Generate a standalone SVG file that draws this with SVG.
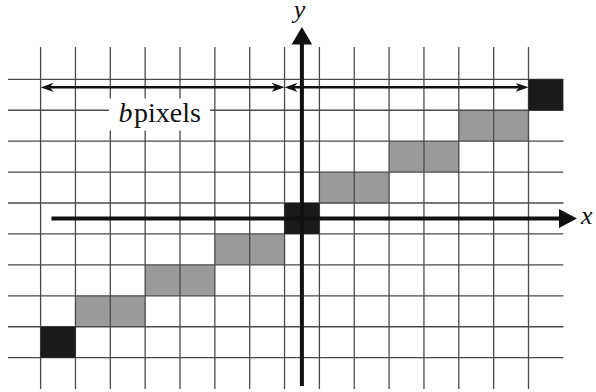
<svg xmlns="http://www.w3.org/2000/svg" width="596" height="392" viewBox="0 0 596 392">
<style>
.grid line{stroke:#4a4a4a;stroke-width:1.3}
.gray{fill:#9a9a9a}
.black{fill:#1a1a1a}
.axis{stroke:#111;stroke-width:4;fill:none}
.head{fill:#111}
.dim{stroke:#111;stroke-width:2.5;fill:none}
.lbl{font-family:"Liberation Serif","Times New Roman",serif;font-size:28px;fill:#111}
.ax{font-size:26px}
.it{font-style:italic}
</style>
<defs>
<marker id="dimhead" viewBox="0 0 13 10" refX="9" refY="5" markerWidth="13" markerHeight="10" markerUnits="userSpaceOnUse" orient="auto-start-reverse">
<path d="M0,0.4 L13,5 L0,9.6 L3.8,5 Z" fill="#111"/>
</marker>
</defs>
<rect width="596" height="392" fill="#fff"/>
<g id="gray-cells">
<rect class="gray" x="458.8" y="110.23" width="69.7" height="30.93"/>
<rect class="gray" x="389.1" y="141.16" width="69.7" height="30.93"/>
<rect class="gray" x="319.4" y="172.09" width="69.7" height="30.93"/>
<rect class="gray" x="214.85" y="233.95" width="69.7" height="30.93"/>
<rect class="gray" x="145.15" y="264.88" width="69.7" height="30.93"/>
<rect class="gray" x="75.45" y="295.81" width="69.7" height="30.93"/>
</g>
<g id="grid" class="grid">
<line x1="40.6" y1="47" x2="40.6" y2="389"/>
<line x1="75.45" y1="47" x2="75.45" y2="389"/>
<line x1="110.3" y1="47" x2="110.3" y2="389"/>
<line x1="145.15" y1="47" x2="145.15" y2="389"/>
<line x1="180" y1="47" x2="180" y2="389"/>
<line x1="214.85" y1="47" x2="214.85" y2="389"/>
<line x1="249.7" y1="47" x2="249.7" y2="389"/>
<line x1="284.55" y1="47" x2="284.55" y2="389"/>
<line x1="319.4" y1="47" x2="319.4" y2="389"/>
<line x1="354.25" y1="47" x2="354.25" y2="389"/>
<line x1="389.1" y1="47" x2="389.1" y2="389"/>
<line x1="423.95" y1="47" x2="423.95" y2="389"/>
<line x1="458.8" y1="47" x2="458.8" y2="389"/>
<line x1="493.65" y1="47" x2="493.65" y2="389"/>
<line x1="528.5" y1="47" x2="528.5" y2="389"/>
<line x1="8" y1="79.3" x2="563.4" y2="79.3"/>
<line x1="8" y1="110.23" x2="563.4" y2="110.23"/>
<line x1="8" y1="141.16" x2="563.4" y2="141.16"/>
<line x1="8" y1="172.09" x2="563.4" y2="172.09"/>
<line x1="8" y1="203.02" x2="563.4" y2="203.02"/>
<line x1="8" y1="233.95" x2="563.4" y2="233.95"/>
<line x1="8" y1="264.88" x2="563.4" y2="264.88"/>
<line x1="8" y1="295.81" x2="563.4" y2="295.81"/>
<line x1="8" y1="326.74" x2="563.4" y2="326.74"/>
<line x1="8" y1="357.67" x2="563.4" y2="357.67"/>
</g>
<g id="black-cells">
<rect class="black" x="528.5" y="79.3" width="34.85" height="30.93"/>
<rect class="black" x="284.55" y="203.02" width="34.85" height="30.93"/>
<rect class="black" x="40.6" y="326.74" width="34.85" height="30.93"/>
</g>
<g id="connectors">
<line class="axis" x1="51.5" y1="218.5" x2="561" y2="218.5"/>
<polygon class="head" points="559,209 577,218.5 559,228"/>
<line class="axis" x1="301.9" y1="386" x2="301.9" y2="42"/>
<polygon class="head" points="291.6,44.5 301.9,27 312.2,44.5"/>
<line class="dim" x1="44.6" y1="87.3" x2="280.55" y2="87.3" marker-start="url(#dimhead)" marker-end="url(#dimhead)"/>
<line class="dim" x1="288.55" y1="87.3" x2="524.5" y2="87.3" marker-start="url(#dimhead)" marker-end="url(#dimhead)"/>
</g>
<g id="label-b-pixels">
<rect x="109" y="98.5" width="101" height="32" fill="#fff"/>
<text class="lbl" y="122.3"><tspan class="it" x="118.5">b</tspan><tspan x="134">pixels</tspan></text>
</g>
<g id="label-x"><text class="lbl ax it" x="581" y="223.5">x</text></g>
<g id="label-y"><text class="lbl ax it" x="299.5" y="17.5" text-anchor="middle">y</text></g>
</svg>
